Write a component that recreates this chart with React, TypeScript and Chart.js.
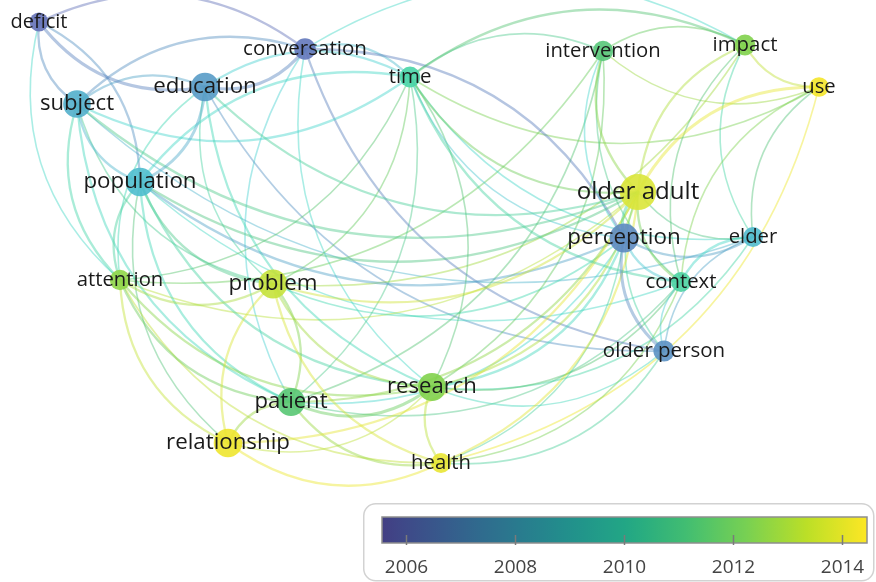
import React, { useEffect, useRef } from "react";
import { Chart, registerables } from "chart.js";

Chart.register(...registerables);

// ---- data ----
const nodeLabels = [
  "deficit", "conversation", "education", "subject", "time", "population",
  "attention", "problem", "patient", "relationship", "research", "health",
  "intervention", "impact", "use", "older adult", "perception", "elder",
  "context", "older person",
];
const nodeX = [39, 305, 205, 77, 410, 140, 120, 273, 291, 228, 432, 441, 603, 745, 819, 638, 624, 753, 681, 664];
const nodeY = [22, 49, 87, 104, 77, 182, 280, 284, 402, 443, 387, 463, 51, 45, 87, 192, 238, 237, 282, 351];
const nodeYear = [2006.0, 2006.2, 2007.3, 2007.9, 2010.3, 2008.3, 2012.6, 2013.4, 2011.4, 2014.2, 2012.4, 2014.1, 2011.3, 2012.4, 2014.3, 2013.8, 2006.8, 2008.2, 2010.4, 2007.0];
const nodeOccurrences = [22, 29, 51, 48, 27, 51, 26, 52, 49, 51, 49, 25, 26, 27, 24, 82, 52, 25, 25, 28];

// links: [source, target, strength]
const links: [string, string, number][] = [
  ["conversation", "deficit", 2],
  ["deficit", "subject", 2],
  ["deficit", "education", 3],
  ["population", "deficit", 2],
  ["deficit", "attention", 1],
  ["education", "conversation", 3],
  ["conversation", "subject", 2],
  ["time", "conversation", 2],
  ["perception", "conversation", 2],
  ["conversation", "older person", 2],
  ["conversation", "patient", 1],
  ["conversation", "research", 1],
  ["impact", "conversation", 1],
  ["education", "subject", 2],
  ["population", "education", 3],
  ["time", "education", 2],
  ["subject", "time", 2],
  ["education", "attention", 1],
  ["education", "problem", 1],
  ["education", "research", 2],
  ["education", "older person", 1],
  ["education", "older adult", 2],
  ["subject", "population", 2],
  ["subject", "attention", 2],
  ["subject", "problem", 1],
  ["subject", "patient", 2],
  ["subject", "older adult", 2],
  ["subject", "elder", 1],
  ["population", "attention", 2],
  ["population", "problem", 2],
  ["population", "patient", 2],
  ["population", "research", 2],
  ["time", "population", 2],
  ["population", "perception", 2],
  ["population", "older adult", 2],
  ["population", "context", 1],
  ["population", "relationship", 1],
  ["attention", "problem", 2],
  ["attention", "patient", 2],
  ["attention", "relationship", 2],
  ["attention", "research", 2],
  ["attention", "health", 1],
  ["attention", "time", 1],
  ["attention", "older adult", 1],
  ["attention", "intervention", 1],
  ["patient", "problem", 2],
  ["problem", "relationship", 2],
  ["problem", "research", 2],
  ["problem", "health", 2],
  ["problem", "older adult", 2],
  ["problem", "perception", 1],
  ["problem", "time", 1],
  ["problem", "impact", 1],
  ["patient", "relationship", 2],
  ["patient", "research", 3],
  ["patient", "health", 2],
  ["patient", "older adult", 2],
  ["patient", "perception", 1],
  ["patient", "time", 1],
  ["patient", "intervention", 1],
  ["patient", "context", 1],
  ["relationship", "health", 2],
  ["relationship", "research", 1],
  ["relationship", "older adult", 2],
  ["research", "health", 2],
  ["research", "older adult", 2],
  ["research", "perception", 2],
  ["research", "elder", 1],
  ["research", "context", 1],
  ["research", "older person", 1],
  ["research", "intervention", 1],
  ["research", "time", 1],
  ["health", "older adult", 2],
  ["health", "perception", 1],
  ["health", "older person", 1],
  ["health", "use", 1],
  ["health", "context", 1],
  ["intervention", "time", 1],
  ["impact", "time", 2],
  ["time", "older adult", 2],
  ["time", "perception", 1],
  ["time", "context", 2],
  ["time", "elder", 1],
  ["time", "use", 1],
  ["impact", "intervention", 1],
  ["intervention", "older adult", 2],
  ["intervention", "perception", 1],
  ["intervention", "context", 1],
  ["intervention", "use", 1],
  ["impact", "use", 2],
  ["impact", "older adult", 2],
  ["impact", "elder", 1],
  ["impact", "context", 1],
  ["use", "older adult", 3],
  ["use", "elder", 1],
  ["use", "context", 1],
  ["older adult", "perception", 3],
  ["older adult", "elder", 1],
  ["older adult", "context", 2],
  ["older adult", "older person", 1],
  ["perception", "elder", 2],
  ["perception", "context", 2],
  ["perception", "older person", 3],
  ["elder", "context", 2],
  ["elder", "older person", 1],
  ["context", "older person", 1],
];

const colorbarTicks = [2006, 2008, 2010, 2012, 2014];
const colorbarRange = [2005.56, 2014.46];

// ---- colour scale (viridis) ----
const VIRIDIS: number[][] = [
  [68, 1, 84], [72, 36, 117], [65, 68, 135], [53, 95, 141], [42, 120, 142],
  [33, 145, 140], [34, 168, 132], [68, 191, 112], [122, 209, 81], [189, 223, 38], [253, 231, 37],
];
function viridis(v: number): number[] {
  const t = Math.max(0, Math.min(1, v)) * (VIRIDIS.length - 1);
  const i = Math.min(VIRIDIS.length - 2, Math.floor(t));
  const f = t - i;
  return VIRIDIS[i].map((c, k) => c + (VIRIDIS[i + 1][k] - c) * f);
}
function yearRGB(year: number): number[] {
  const t = (year - colorbarRange[0]) / (colorbarRange[1] - colorbarRange[0]);
  return viridis(0.18 + 0.82 * t);
}
function rgba(c: number[], a: number) {
  return `rgba(${Math.round(c[0])},${Math.round(c[1])},${Math.round(c[2])},${a})`;
}
// raise lightness to at least `minL`, keeping hue and saturation
function brighten(c: number[], minL: number): number[] {
  const r = c[0] / 255, g = c[1] / 255, b = c[2] / 255;
  const mx = Math.max(r, g, b), mn = Math.min(r, g, b);
  let h = 0, s = 0;
  const l = (mx + mn) / 2;
  const d = mx - mn;
  if (d > 0) {
    s = l > 0.5 ? d / (2 - mx - mn) : d / (mx + mn);
    if (mx === r) h = ((g - b) / d + (g < b ? 6 : 0)) / 6;
    else if (mx === g) h = ((b - r) / d + 2) / 6;
    else h = ((r - g) / d + 4) / 6;
  }
  const L = Math.max(l, minL);
  const hue2 = (p: number, q: number, t: number) => {
    if (t < 0) t += 1;
    if (t > 1) t -= 1;
    if (t < 1 / 6) return p + (q - p) * 6 * t;
    if (t < 1 / 2) return q;
    if (t < 2 / 3) return p + (q - p) * (2 / 3 - t) * 6;
    return p;
  };
  const q = L < 0.5 ? L * (1 + s) : L + s - L * s;
  const p = 2 * L - q;
  return [hue2(p, q, h + 1 / 3) * 255, hue2(p, q, h) * 255, hue2(p, q, h - 1 / 3) * 255];
}

const FONT = '"Open Sans", "DejaVu Sans", sans-serif';
const radiusOf = (w: number) => 2.0 * Math.sqrt(w);
const fontOf = (w: number) => 15.5 + 0.95 * Math.sqrt(w);

const edgesPlugin = {
  id: "edges",
  beforeDatasetsDraw(chart: any) {
    const { ctx } = chart;
    const xs = chart.scales.x;
    const ys = chart.scales.y;
    ctx.save();
    ctx.lineCap = "round";
    const sorted = [...links].sort((a, b) => a[2] - b[2]);
    for (const [s, t, w] of sorted) {
      const i = nodeLabels.indexOf(s);
      const j = nodeLabels.indexOf(t);
      const x0 = xs.getPixelForValue(nodeX[i]);
      const y0 = ys.getPixelForValue(nodeY[i]);
      const x1 = xs.getPixelForValue(nodeX[j]);
      const y1 = ys.getPixelForValue(nodeY[j]);
      const dx = x1 - x0;
      const dy = y1 - y0;
      const k = 0.3;
      const cx = (x0 + x1) / 2 - dy * k;
      const cy = (y0 + y1) / 2 + dx * k;
      const col = brighten(yearRGB((nodeYear[i] + nodeYear[j]) / 2), 0.55);
      ctx.strokeStyle = rgba(col, 0.45);
      ctx.lineWidth = 0.9 + 0.7 * w;
      ctx.beginPath();
      ctx.moveTo(x0, y0);
      ctx.quadraticCurveTo(cx, cy, x1, y1);
      ctx.stroke();
    }
    ctx.restore();
  },
};

const labelsPlugin = {
  id: "nodeLabels",
  afterDatasetsDraw(chart: any) {
    const { ctx } = chart;
    const xs = chart.scales.x;
    const ys = chart.scales.y;
    ctx.save();
    ctx.textAlign = "center";
    ctx.textBaseline = "alphabetic";
    ctx.fillStyle = "#1a1a1a";
    nodeLabels.forEach((lab, i) => {
      const fs = fontOf(nodeOccurrences[i]);
      ctx.font = `${fs.toFixed(1)}px ${FONT}`;
      ctx.fillText(lab, xs.getPixelForValue(nodeX[i]), ys.getPixelForValue(nodeY[i]) + 0.28 * fs);
    });
    ctx.restore();
  },
};

const colorbarPlugin = {
  id: "colorbar",
  beforeDatasetsDraw(chart: any) {
    const { ctx, chartArea: a } = chart;
    const xs = chart.scales.x;
    const W = chart.width;
    const H = chart.height;
    ctx.save();
    const r = 12;
    const bx = 0.75, by = 0.75, bw = W - 3, bh = H - 2;
    ctx.beginPath();
    ctx.moveTo(bx + r, by);
    ctx.lineTo(bx + bw - r, by);
    ctx.arcTo(bx + bw, by, bx + bw, by + r, r);
    ctx.lineTo(bx + bw, by + bh - r);
    ctx.arcTo(bx + bw, by + bh, bx + bw - r, by + bh, r);
    ctx.lineTo(bx + r, by + bh);
    ctx.arcTo(bx, by + bh, bx, by + bh - r, r);
    ctx.lineTo(bx, by + r);
    ctx.arcTo(bx, by, bx + r, by, r);
    ctx.closePath();
    ctx.fillStyle = "#ffffff";
    ctx.fill();
    ctx.strokeStyle = "#d2d2d2";
    ctx.lineWidth = 1.5;
    ctx.stroke();
    const g = ctx.createLinearGradient(a.left, 0, a.right, 0);
    const n = 24;
    for (let s = 0; s <= n; s++) {
      const yr = colorbarRange[0] + (s / n) * (colorbarRange[1] - colorbarRange[0]);
      g.addColorStop(s / n, rgba(yearRGB(yr), 1));
    }
    ctx.fillStyle = g;
    ctx.fillRect(a.left, a.top, a.right - a.left, a.bottom - a.top);
    ctx.strokeStyle = "#8e8e8e";
    ctx.lineWidth = 1.5;
    ctx.strokeRect(a.left, a.top, a.right - a.left, a.bottom - a.top);
    ctx.strokeStyle = "#7a7a7a";
    ctx.lineWidth = 1.5;
    ctx.fillStyle = "#444444";
    ctx.font = `19px ${FONT}`;
    ctx.textAlign = "center";
    ctx.textBaseline = "alphabetic";
    for (const t of colorbarTicks) {
      const px = Math.round(xs.getPixelForValue(t)) + 0.5;
      ctx.beginPath();
      ctx.moveTo(px, a.bottom - 8);
      ctx.lineTo(px, a.bottom + 2);
      ctx.stroke();
      ctx.fillText(String(t), px, a.bottom + 30);
    }
    ctx.restore();
  },
};

export default function App() {
  const netRef = useRef<HTMLCanvasElement | null>(null);
  const barRef = useRef<HTMLCanvasElement | null>(null);

  useEffect(() => {
    if (!netRef.current || !barRef.current) return;
    const radii = nodeOccurrences.map(radiusOf);
    const colors = nodeYear.map((y) => rgba(brighten(yearRGB(y), 0.56), 0.9));
    const net = new Chart(netRef.current, {
      type: "scatter",
      data: {
        datasets: [
          {
            data: nodeX.map((x, i) => ({ x, y: nodeY[i] })),
            pointRadius: radii,
            pointHoverRadius: radii,
            pointBackgroundColor: colors,
            pointBorderWidth: 0,
            pointBorderColor: "rgba(0,0,0,0)",
            clip: false,
          },
        ],
      },
      options: {
        responsive: false,
        animation: false,
        events: [],
        layout: { padding: 0, autoPadding: false },
        scales: {
          x: { type: "linear", min: 0, max: 876, display: false },
          y: { type: "linear", min: 0, max: 582, reverse: true, display: false },
        },
        plugins: { legend: { display: false }, tooltip: { enabled: false } },
      },
      plugins: [edgesPlugin, labelsPlugin],
    } as any);

    const bar = new Chart(barRef.current, {
      type: "scatter",
      data: { datasets: [{ data: [] }] },
      options: {
        responsive: false,
        animation: false,
        events: [],
        layout: { padding: { left: 19, right: 9, top: 14, bottom: 39 }, autoPadding: false },
        scales: {
          x: { type: "linear", min: colorbarRange[0], max: colorbarRange[1], display: false },
          y: { type: "linear", min: 0, max: 1, display: false },
        },
        plugins: { legend: { display: false }, tooltip: { enabled: false } },
      },
      plugins: [colorbarPlugin],
    } as any);

    return () => {
      net.destroy();
      bar.destroy();
    };
  }, []);

  return (
    <div style={{ position: "absolute", left: 0, top: 0, width: 876, height: 582, background: "#fff", overflow: "hidden" }}>
      <canvas ref={netRef} width={876} height={582} style={{ position: "absolute", left: 0, top: 0, width: 876, height: 582 }} />
      <canvas ref={barRef} width={513} height={79} style={{ position: "absolute", left: 363, top: 503, width: 513, height: 79 }} />
    </div>
  );
}
